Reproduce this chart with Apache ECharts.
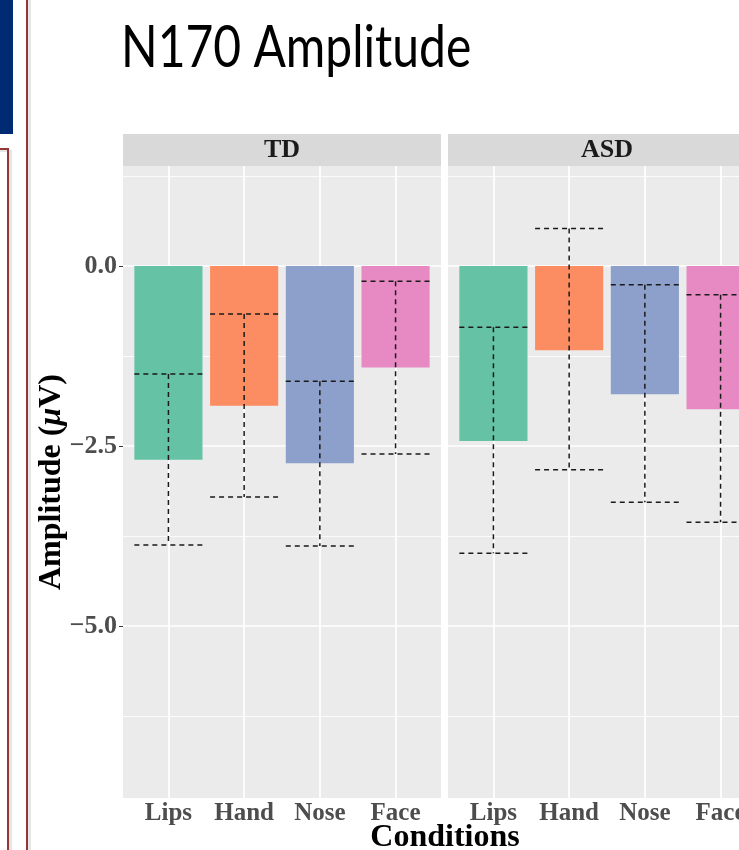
<!DOCTYPE html>
<html>
<head>
<meta charset="utf-8">
<script src="https://cdn.jsdelivr.net/npm/echarts@6/dist/echarts.min.js"></script>
<style>
html,body{margin:0;padding:0;background:#fff;}
#chart{width:739px;height:850px;}
</style>
</head>
<body>
<div id="chart"></div>
<script>
// ---- data ----
const categories = ['Lips', 'Hand', 'Nose', 'Face'];
const panels = ['TD', 'ASD'];
const tdMean = [-2.69, -1.94, -2.74, -1.41];
const tdLow  = [-3.875, -3.21, -3.89, -2.61];
const tdHigh = [-1.5, -0.667, -1.6, -0.21];
const asdMean = [-2.43, -1.17, -1.78, -1.99];
const asdLow  = [-3.99, -2.83, -3.28, -3.56];
const asdHigh = [-0.85, 0.52, -0.26, -0.40];
const barColors = ['#66c2a5', '#fc8d62', '#8da0cb', '#e78ac3'];
const yTicks = [0, -2.5, -5];
const yTickLabels = ['0.0', '\u22122.5', '\u22125.0'];
const yMinorGrid = [1.25, -1.25, -3.75, -6.25];
const yRange = [-7.389, 1.389];
const xRange = [0.4, 4.6];

// ---- layout ----
const serif = '"Liberation Serif", "Times New Roman", serif';
const gridTop = 166, gridH = 632, gridW = 318;
const gridLefts = [123, 448];
const xPos = categories.map((c, i) => i + 1);

const chart = echarts.init(document.getElementById('chart'), null, {renderer: 'canvas'});

const grids = gridLefts.map(l => ({
  left: l, top: gridTop, width: gridW, height: gridH,
  show: true, backgroundColor: '#ebebeb', borderWidth: 0, containLabel: false,
  outerBoundsMode: 'none'
}));

const xAxes = panels.map((p, k) => ({
  type: 'value', gridIndex: k, min: xRange[0], max: xRange[1],
  axisLine: {show: false},
  splitLine: {show: false},
  axisTick: {show: true, customValues: xPos, length: 4, lineStyle: {color: '#333333', width: 1}},
  axisLabel: {
    customValues: xPos, margin: 3,
    formatter: v => categories[Math.round(v) - 1] || '',
    fontFamily: serif, fontWeight: 'bold', fontSize: 25, color: '#4d4d4d'
  }
}));

const yAxes = panels.map((p, k) => ({
  type: 'value', gridIndex: k, min: yRange[0], max: yRange[1],
  axisLine: {show: false},
  splitLine: {show: false},
  axisTick: {show: k === 0, customValues: yTicks, length: 4, lineStyle: {color: '#333333', width: 1}},
  axisLabel: {
    show: k === 0, customValues: yTicks, margin: 6,
    formatter: v => { const i = yTicks.findIndex(t => Math.abs(t - v) < 1e-6); return i >= 0 ? yTickLabels[i] : ''; },
    fontFamily: serif, fontWeight: 'bold', fontSize: 26, color: '#4d4d4d'
  },
  name: k === 0 ? 'Amplitude ({i|\u03bc}V)' : '',
  nameLocation: 'middle', nameGap: 55, nameRotate: 90, nameMoveOverlap: false,
  nameTextStyle: {
    fontFamily: serif, fontWeight: 'bold', fontSize: 32, color: '#000',
    rich: {i: {fontFamily: serif, fontWeight: 'bold', fontStyle: 'italic', fontSize: 32, color: '#000'}}
  }
}));

function gridLines() {
  const d = [];
  yMinorGrid.forEach(v => d.push({yAxis: v, lineStyle: {color: '#ffffff', width: 0.8, type: 'solid'}}));
  yTicks.forEach(v => d.push({yAxis: v, lineStyle: {color: '#ffffff', width: 1.7, type: 'solid'}}));
  xPos.forEach(v => d.push({xAxis: v, lineStyle: {color: '#ffffff', width: 1.7, type: 'solid'}}));
  return d;
}

const series = [];
const means = [tdMean, asdMean], lows = [tdLow, asdLow], highs = [tdHigh, asdHigh];
panels.forEach((p, k) => {
  series.push({
    type: 'bar', name: p, xAxisIndex: k, yAxisIndex: k, barWidth: '90%', z: 2,
    data: categories.map((c, i) => ({value: [xPos[i], means[k][i]], itemStyle: {color: barColors[i]}})),
    silent: true,
    markLine: {
      silent: true, symbol: ['none', 'none'], z: 1, animation: false,
      label: {show: false}, emphasis: {disabled: true},
      data: gridLines()
    }
  });
  series.push({
    type: 'custom', name: p + ' error', xAxisIndex: k, yAxisIndex: k, z: 3, silent: true,
    data: categories.map((c, i) => [xPos[i], lows[k][i], highs[k][i]]),
    encode: {x: 0, y: [1, 2]},
    renderItem: (params, api) => {
      const x = api.value(0);
      const lo = api.coord([x, api.value(1)]);
      const hi = api.coord([x, api.value(2)]);
      const hw = api.size([0.9, 0])[0] / 2;
      const st = {stroke: '#1a1a1a', lineWidth: 1.5, lineDash: [5, 4], fill: null};
      return {type: 'group', children: [
        {type: 'line', shape: {x1: hi[0], y1: hi[1], x2: lo[0], y2: lo[1]}, style: st},
        {type: 'line', shape: {x1: hi[0] - hw, y1: hi[1], x2: hi[0] + hw, y2: hi[1]}, style: st},
        {type: 'line', shape: {x1: lo[0] - hw, y1: lo[1], x2: lo[0] + hw, y2: lo[1]}, style: st}
      ]};
    }
  });
});

const graphic = [
  // slide decorations
  {type: 'rect', shape: {x: 0, y: 0, width: 13, height: 134}, style: {fill: '#002b73'}, z: 0},
  {type: 'rect', shape: {x: 28, y: 0, width: 3, height: 850}, style: {fill: '#e6e6e6'}, z: 0},
  {type: 'rect', shape: {x: 26, y: 0, width: 2, height: 850}, style: {fill: '#953735'}, z: 1},
  {type: 'rect', shape: {x: 9, y: 150, width: 3, height: 700}, style: {fill: '#e6e6e6'}, z: 0},
  {type: 'rect', shape: {x: 0, y: 150, width: 9, height: 2}, style: {fill: '#e6e6e6'}, z: 0},
  {type: 'rect', shape: {x: 0, y: 148, width: 9, height: 2}, style: {fill: '#953735'}, z: 1},
  {type: 'rect', shape: {x: 7, y: 148, width: 2, height: 702}, style: {fill: '#953735'}, z: 1},
  // slide title
  {type: 'text', x: 121, y: 20, scaleY: 1.2, z: 5,
   style: {text: 'N170 Amplitude', fontFamily: 'Lato, "Open Sans", sans-serif', fontSize: 48,
           fill: '#000', align: 'left', verticalAlign: 'top'}}
];
panels.forEach((p, k) => {
  graphic.push({type: 'rect', shape: {x: gridLefts[k], y: 134, width: gridW, height: 32}, style: {fill: '#d9d9d9'}, z: 0});
  graphic.push({type: 'text', x: gridLefts[k] + gridW / 2, y: 150, z: 1,
    style: {text: p, fontFamily: serif, fontWeight: 'bold', fontSize: 26, fill: '#1a1a1a', align: 'center', verticalAlign: 'middle'}});
});

chart.setOption({
  animation: false,
  backgroundColor: '#ffffff',
  title: [
    {text: 'Conditions', left: 445, top: 822, padding: 0, textAlign: 'center',
     textStyle: {fontFamily: serif, fontWeight: 'bold', fontSize: 32, color: '#000'}}
  ],
  grid: grids,
  xAxis: xAxes,
  yAxis: yAxes,
  series: series,
  graphic: graphic
});
</script>
</body>
</html>
